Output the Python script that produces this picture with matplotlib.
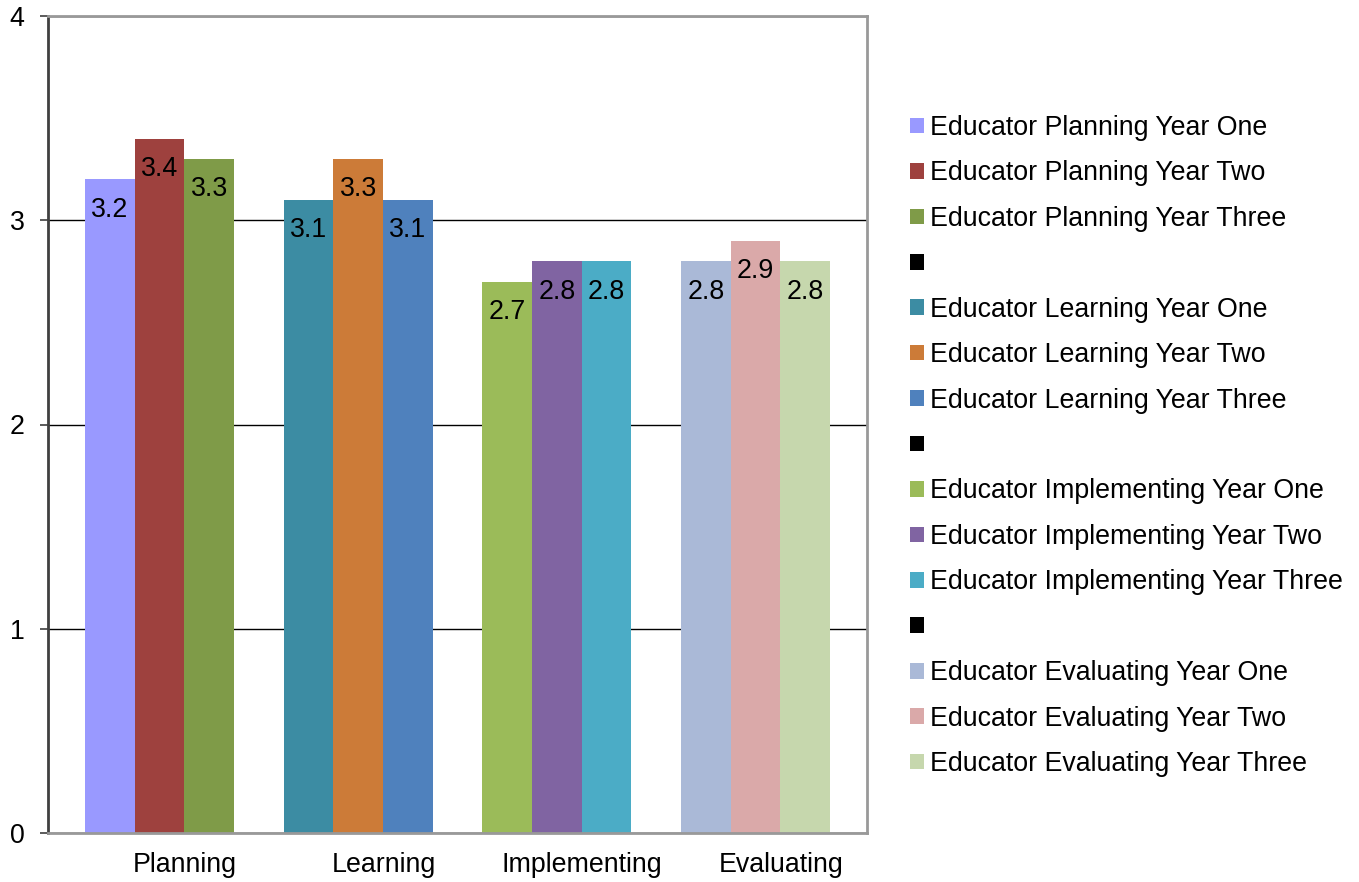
import numpy as np
import matplotlib.pyplot as plt
from matplotlib.patches import Patch

plt.rcParams['font.family'] = ['Liberation Sans', 'DejaVu Sans']

# Data
categories = ['Planning', 'Learning', 'Implementing', 'Evaluating']
years = ['Year One', 'Year Two', 'Year Three']
values = [
    [3.2, 3.4, 3.3],   # Planning
    [3.1, 3.3, 3.1],   # Learning
    [2.7, 2.8, 2.8],   # Implementing
    [2.8, 2.9, 2.8],   # Evaluating
]
colors = [
    ['#9999FF', '#9E413E', '#7F9B48'],
    ['#3C8CA3', '#CC7B38', '#4F81BD'],
    ['#9BBB59', '#8064A2', '#4BACC6'],
    ['#AAB9D7', '#DAA9A9', '#C6D7AD'],
]

fs = 19.3
fig = plt.figure(figsize=(13.59, 8.82), dpi=100)
ax = fig.add_axes([48 / 1359, 49 / 882, 819 / 1359, 817 / 882])

width = 0.25
centers = np.arange(len(categories)) + 0.561

handles = []
for i, cat in enumerate(categories):
    for j, yr in enumerate(years):
        x = centers[i] + (j - 1) * width
        v = values[i][j]
        ax.bar(x, v, width=width, color=colors[i][j], zorder=3)
        ax.annotate(f'{v}', (x, v), xytext=(0, -27), textcoords='offset points',
                    ha='center', va='baseline', fontsize=fs, zorder=4)
        handles.append((Patch(facecolor=colors[i][j]), f'Educator {cat} {yr}'))
    if i < len(categories) - 1:
        handles.append((Patch(facecolor='black'), ''))

ax.set_xlim(0, 819 / 198.7)
ax.set_ylim(0, 4)
ax.set_yticks([0, 1, 2, 3, 4])
ax.set_xticks(centers + 0.127)
ax.set_xticklabels(categories)
ax.tick_params(axis='x', length=0, pad=13.5, labelsize=fs)
ax.tick_params(axis='y', length=6, width=1.2, pad=11, labelsize=fs, color='#404040')
ax.yaxis.grid(True, color='black', linewidth=1, zorder=0)

ax.spines['left'].set_color('#404040')
ax.spines['left'].set_linewidth(2)
for s in ['top', 'right', 'bottom']:
    ax.spines[s].set_color('#999999')
    ax.spines[s].set_linewidth(2)
ax.spines['bottom'].set_zorder(5)

fig.legend([h for h, _ in handles], [l for _, l in handles],
           loc='upper left', bbox_to_anchor=(910 / 1359, (882 - 115) / 882),
           frameon=False, fontsize=fs, borderpad=0, borderaxespad=0,
           handlelength=0.52, handleheight=0.52, handletextpad=0.23,
           labelspacing=0.725)

fig.savefig('out.png', dpi=100)
